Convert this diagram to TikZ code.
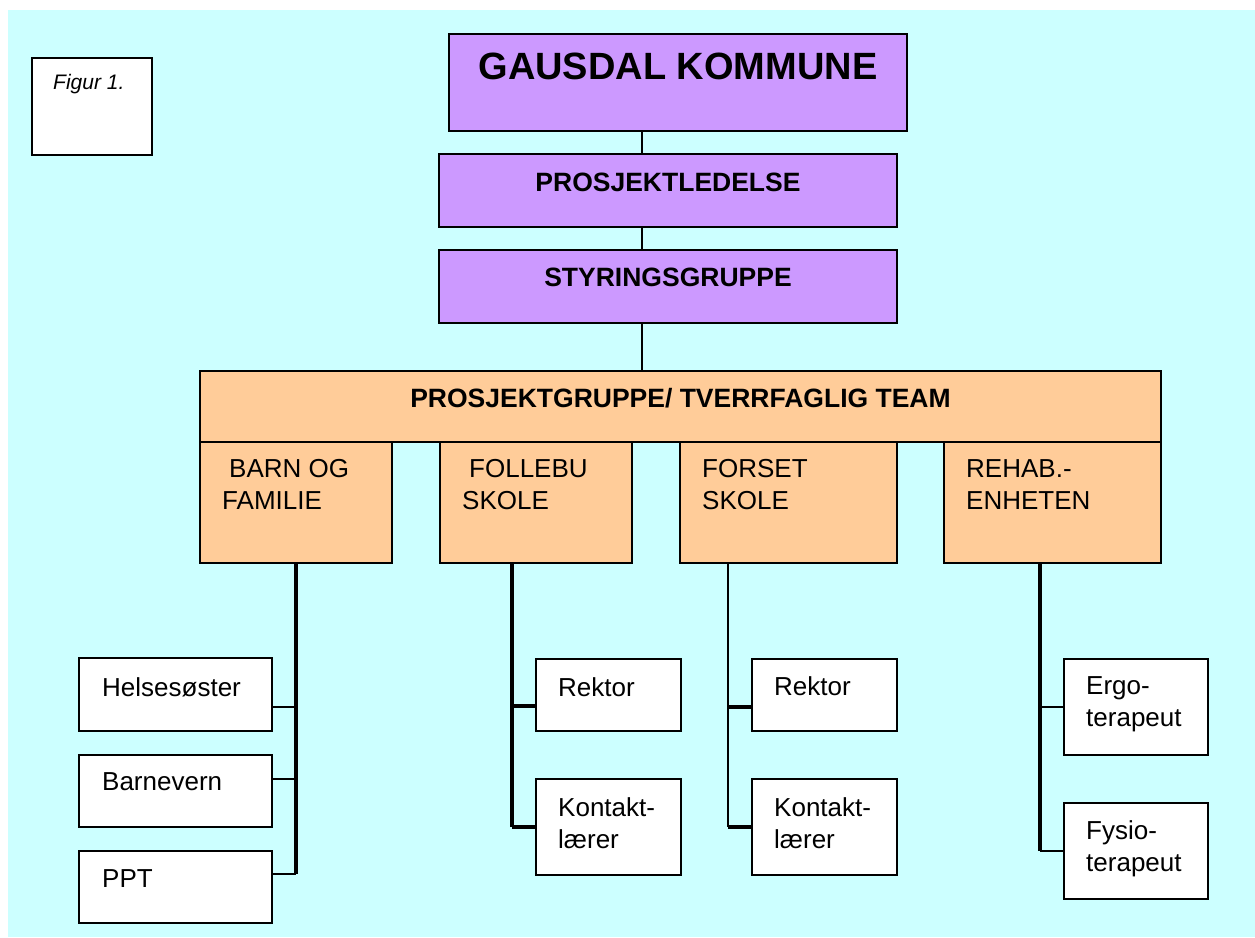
\documentclass[tikz,border=0pt]{standalone}
\usepackage{fontspec}
\setmainfont{Liberation Sans}
\definecolor{bakgrunn}{HTML}{CCFFFF}
\definecolor{lilla}{HTML}{CC99FF}
\definecolor{oransje}{HTML}{FFCC99}
\begin{document}
\begin{tikzpicture}[x=1pt, y=-1pt,
    boks/.style={draw=black, line width=1.7pt, inner sep=0pt, outer sep=0pt, anchor=north west},
    lillaboks/.style={boks, fill=lilla},
    oransjeboks/.style={boks, fill=oransje},
    hvitboks/.style={boks, fill=white},
    tittel/.style={inner sep=0pt, anchor=north, font=\bfseries\fontsize{26.5}{32}\selectfont},
    tekst/.style={inner sep=0pt, anchor=north west, align=left, font=\fontsize{26}{32}\selectfont},
    tynn/.style={line width=1.3pt},
    tykk/.style={line width=3.2pt}]
    \useasboundingbox (0,0) rectangle (1255,937);
    \fill[bakgrunn] (8,10) rectangle (1255,937);
    % figurtekst
    \node[hvitboks, minimum width=120pt, minimum height=97pt] (figur) at (32,58) {};
    \node[inner sep=0pt, anchor=north west, font=\itshape\fontsize{21}{25}\selectfont] (figurT) at ([shift={(21,16)}]figur.north west) {Figur 1.};
    % ledelse
    \node[lillaboks, minimum width=458pt, minimum height=97pt] (kommune) at (449,34) {};
    \node[tittel, font=\bfseries\fontsize{38}{44}\selectfont] (kommuneT) at ([yshift=-19pt]kommune.north) {GAUSDAL KOMMUNE};
    \node[lillaboks, minimum width=458pt, minimum height=73pt] (ledelse) at (439,154) {};
    \node[tittel] (ledelseT) at ([yshift=-19pt]ledelse.north) {PROSJEKTLEDELSE};
    \node[lillaboks, minimum width=458pt, minimum height=73pt] (styring) at (439,250) {};
    \node[tittel] (styringT) at ([yshift=-18pt]styring.north) {STYRINGSGRUPPE};
    \node[oransjeboks, minimum width=961pt, minimum height=71pt] (gruppe) at (200,371) {};
    \node[tittel] (gruppeT) at ([yshift=-17pt]gruppe.north) {PROSJEKTGRUPPE/ TVERRFAGLIG TEAM};
    % enhetene
    \node[oransjeboks, minimum width=192pt, minimum height=121pt] (barn) at (200,442) {};
    \node[tekst] (barnT) at ([shift={(22,17)}]barn.north west) {\hspace*{7pt}BARN OG\\FAMILIE};
    \node[oransjeboks, minimum width=192pt, minimum height=121pt] (follebu) at (440,442) {};
    \node[tekst] (follebuT) at ([shift={(22,17)}]follebu.north west) {\hspace*{7pt}FOLLEBU\\SKOLE};
    \node[oransjeboks, minimum width=217pt, minimum height=121pt] (forset) at (680,442) {};
    \node[tekst] (forsetT) at ([shift={(22,17)}]forset.north west) {FORSET\\SKOLE};
    \node[oransjeboks, minimum width=217pt, minimum height=121pt] (rehab) at (944,442) {};
    \node[tekst] (rehabT) at ([shift={(22,17)}]rehab.north west) {REHAB.-\\ENHETEN};
    % medlemmer
    \node[hvitboks, minimum width=193pt, minimum height=73pt] (helse) at (79,658) {};
    \node[tekst] (helseT) at ([shift={(23,19)}]helse.north west) {Helsesøster};
    \node[hvitboks, minimum width=193pt, minimum height=72pt] (barnevern) at (79,755) {};
    \node[tekst] (barnevernT) at ([shift={(23,17)}]barnevern.north west) {Barnevern};
    \node[hvitboks, minimum width=193pt, minimum height=72pt] (ppt) at (79,851) {};
    \node[tekst] (pptT) at ([shift={(23,18)}]ppt.north west) {PPT};
    \node[hvitboks, minimum width=145pt, minimum height=72pt] (rektorF) at (536,659) {};
    \node[tekst] (rektorFT) at ([shift={(22,18)}]rektorF.north west) {Rektor};
    \node[hvitboks, minimum width=145pt, minimum height=96pt] (kontaktF) at (536,779) {};
    \node[tekst] (kontaktFT) at ([shift={(22,18)}]kontaktF.north west) {Kontakt-\\lærer};
    \node[hvitboks, minimum width=145pt, minimum height=72pt] (rektorS) at (752,659) {};
    \node[tekst] (rektorST) at ([shift={(22,17)}]rektorS.north west) {Rektor};
    \node[hvitboks, minimum width=145pt, minimum height=96pt] (kontaktS) at (752,779) {};
    \node[tekst] (kontaktST) at ([shift={(22,18)}]kontaktS.north west) {Kontakt-\\lærer};
    \node[hvitboks, minimum width=144pt, minimum height=96pt] (ergo) at (1064,659) {};
    \node[tekst] (ergoT) at ([shift={(22,17)}]ergo.north west) {Ergo-\\terapeut};
    \node[hvitboks, minimum width=144pt, minimum height=96pt] (fysio) at (1064,803) {};
    \node[tekst] (fysioT) at ([shift={(22,17)}]fysio.north west) {Fysio-\\terapeut};
    % linjer
    \coordinate (spine) at (642,0);
    \draw[tynn] (kommune.south -| spine) -- (ledelse.north -| spine);
    \draw[tynn] (ledelse.south -| spine) -- (styring.north -| spine);
    \draw[tynn] (styring.south -| spine) -- (gruppe.north -| spine);
    % barn og familie
    \coordinate (helseK) at ([yshift=-12.5pt]helse.east);
    \coordinate (barnevernK) at ([yshift=12pt]barnevern.east);
    \coordinate (pptK) at ([yshift=13pt]ppt.east);
    \draw[tykk] (barn.south) -- (barn.south |- pptK);
    \draw[tynn] (helseK) -- (helseK -| barn.south);
    \draw[tynn] (barnevernK) -- (barnevernK -| barn.south);
    \draw[tynn] (pptK) -- (pptK -| barn.south);
    % follebu
    \coordinate (follebuK) at ([xshift=-24pt]follebu.south);
    \coordinate (rektorFK) at ([yshift=-11pt]rektorF.west);
    \draw[tykk] (follebuK) -- (follebuK |- kontaktF.west);
    \draw[tykk] (rektorFK) -- (rektorFK -| follebuK);
    \draw[tykk] (kontaktF.west) -- (kontaktF.west -| follebuK);
    % forset
    \coordinate (forsetK) at ([xshift=-60.5pt]forset.south);
    \coordinate (rektorSK) at ([yshift=-12pt]rektorS.west);
    \draw[tynn] (forsetK) -- (forsetK |- kontaktS.west);
    \draw[tykk] (rektorSK) -- (rektorSK -| forsetK);
    \draw[tykk] (kontaktS.west) -- (kontaktS.west -| forsetK);
    % rehab
    \coordinate (rehabK) at ([xshift=-12.5pt]rehab.south);
    \draw[tykk] (rehabK) -- (rehabK |- fysio.west);
    \draw[tynn] (ergo.west) -- (ergo.west -| rehabK);
    \draw[tynn] (fysio.west) -- (fysio.west -| rehabK);
\end{tikzpicture}
\end{document}
